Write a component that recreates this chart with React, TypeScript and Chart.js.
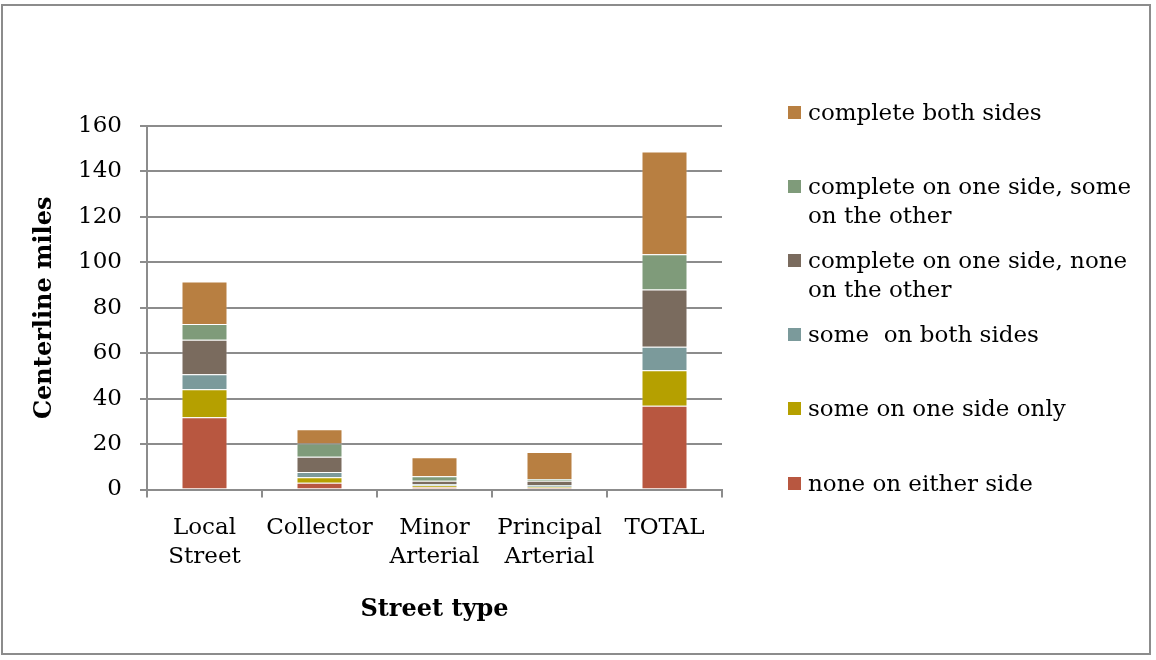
import React, { useEffect, useRef } from "react";
import { Chart, registerables } from "chart.js";

Chart.register(...registerables);

const categories: (string | string[])[] = [
  ["Local", "Street"],
  "Collector",
  ["Minor", "Arterial"],
  ["Principal", "Arterial"],
  "TOTAL",
];

const seriesNames = [
  "none on either side",
  "some on one side only",
  "some  on both sides",
  "complete on one side, none on the other",
  "complete on one side, some on the other",
  "complete both sides",
];

const noneEither = [31.8, 3.0, 1.0, 0.8, 36.9];
const someOneSide = [12.3, 2.4, 0.8, 0.4, 15.6];
const someBoth = [6.6, 2.3, 0.6, 0.8, 10.3];
const completeNone = [15.2, 6.7, 1.5, 1.9, 25.2];
const completeSome = [7.0, 5.8, 1.9, 0.7, 15.6];
const completeBoth = [18.6, 6.3, 8.4, 11.9, 45.2];

const seriesValues = [noneEither, someOneSide, someBoth, completeNone, completeSome, completeBoth];
const seriesColors = ["#B85740", "#B5A000", "#7B9A9B", "#7A6B5E", "#7F9B7A", "#B87F41"];

const yTicks = [0, 20, 40, 60, 80, 100, 120, 140, 160];

const FONT = "'DejaVu Serif', serif";
const GRID = "#8c8c8c";

export default function App() {
  const canvasRef = useRef<HTMLCanvasElement | null>(null);

  useEffect(() => {
    document.body.style.margin = "0";
    const ctx = canvasRef.current;
    if (!ctx) return;
    const chart = new Chart(ctx, {
      type: "bar",
      data: {
        labels: categories,
        datasets: seriesNames.map((name, i) => ({
          label: name,
          data: seriesValues[i],
          backgroundColor: seriesColors[i],
          borderColor: "rgba(255,255,255,0.3)",
          borderWidth: 1,
          categoryPercentage: 1,
          barPercentage: 0.4,
        })),
      },
      options: {
        animation: false,
        responsive: false,
        maintainAspectRatio: false,
        layout: { padding: { top: 126, right: 434, left: 0, bottom: 0 } },
        plugins: {
          legend: { display: false },
          tooltip: { enabled: false },
        },
        scales: {
          x: {
            stacked: true,
            afterFit: (scale: any) => {
              scale.height = 170.5;
            },
            grid: {
              offset: true,
              drawOnChartArea: false,
              drawTicks: true,
              tickLength: 8,
              color: GRID,
              lineWidth: 2,
            },
            border: { display: true, color: GRID, width: 2 },
            ticks: {
              color: "#000",
              padding: 16,
              maxRotation: 0,
              autoSkip: false,
              font: { family: FONT, size: 23, lineHeight: 1.26 },
            },
            title: {
              display: true,
              text: "Street type",
              color: "#000",
              font: { family: FONT, size: 24, weight: "bold", lineHeight: 1.2 },
              padding: { top: 0, bottom: 35.6 },
            },
          },
          y: {
            stacked: true,
            min: 0,
            max: 160,
            afterFit: (scale: any) => {
              scale.width = 147;
            },
            afterBuildTicks: (scale: any) => {
              scale.ticks = yTicks.map((v) => ({ value: v }));
            },
            grid: {
              color: GRID,
              lineWidth: 2,
              drawTicks: true,
              tickLength: 7,
            },
            border: { display: true, color: GRID, width: 2 },
            ticks: {
              color: "#000",
              padding: 18,
              font: { family: FONT, size: 23 },
            },
            title: {
              display: true,
              text: "Centerline miles",
              color: "#000",
              font: { family: FONT, size: 24, weight: "bold", lineHeight: 1.2 },
              padding: { top: 30.6, bottom: 0 },
            },
          },
        },
      },
    });
    return () => chart.destroy();
  }, []);

  const legendItems = seriesNames.map((n, i) => ({ name: n, color: seriesColors[i] })).reverse();

  return (
    <div style={{ position: "fixed", left: 0, top: 0, width: 1156, height: 660, background: "#fff" }}>
      <div
        style={{
          position: "absolute",
          left: 1,
          top: 4,
          width: 1150,
          height: 651,
          border: "2px solid #8c8c8c",
          boxSizing: "border-box",
        }}
      />
      <canvas
        ref={canvasRef}
        width={1156}
        height={660}
        style={{ position: "absolute", left: 0, top: 0, width: 1156, height: 660 }}
      />
      {legendItems.map((item, i) => (
        <div
          key={item.name}
          style={{
            position: "absolute",
            left: 788,
            top: 112 + i * 74.2 - 14.5,
            display: "flex",
            alignItems: "flex-start",
            fontFamily: FONT,
            fontSize: 23,
            lineHeight: "29px",
            color: "#000",
          }}
        >
          <div
            style={{
              width: 13,
              height: 13,
              background: item.color,
              marginTop: 8,
              marginRight: 7,
              flex: "0 0 auto",
            }}
          />
          <div style={{ width: 345, whiteSpace: "pre-wrap" }}>{item.name}</div>
        </div>
      ))}
    </div>
  );
}
